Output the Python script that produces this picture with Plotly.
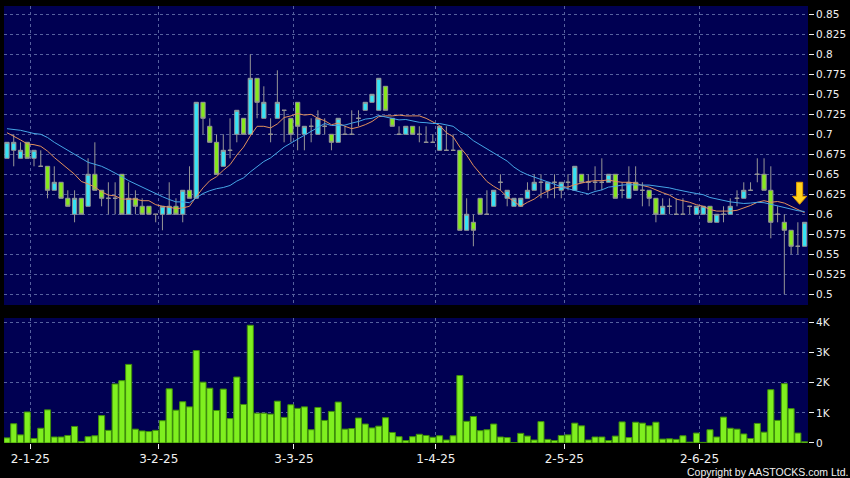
import plotly.graph_objects as go

# ---------------- data ----------------
opens = [0.67, 0.68, 0.67, 0.69, 0.67, 0.66, 0.66, 0.63, 0.64, 0.62,
         0.60, 0.62, 0.61, 0.65, 0.63, 0.62, 0.62, 0.65, 0.60, 0.62,
         0.61, 0.61, 0.60, 0.60, 0.60, 0.61, 0.60, 0.63, 0.62, 0.74,
         0.71, 0.69, 0.66, 0.68, 0.70, 0.72, 0.70, 0.77, 0.72, 0.70,
         0.72, 0.73, 0.72, 0.74, 0.70, 0.71, 0.70, 0.71, 0.70, 0.69,
         0.70, 0.70, 0.72, 0.73, 0.74, 0.73, 0.76, 0.72, 0.70, 0.70,
         0.71, 0.70, 0.69, 0.69, 0.68, 0.68, 0.68, 0.68, 0.58, 0.59,
         0.62, 0.60, 0.61, 0.64, 0.62, 0.61, 0.61, 0.62, 0.63, 0.64,
         0.63, 0.64, 0.63, 0.64, 0.63, 0.65, 0.64, 0.64, 0.64, 0.64,
         0.65, 0.63, 0.62, 0.64, 0.63, 0.63, 0.62, 0.60, 0.61, 0.60,
         0.60, 0.61, 0.60, 0.60, 0.61, 0.59, 0.60, 0.60, 0.62, 0.62,
         0.63, 0.65, 0.65, 0.63, 0.60, 0.59, 0.58, 0.56, 0.56]
highs = [0.69, 0.70, 0.69, 0.69, 0.68, 0.68, 0.66, 0.66, 0.64, 0.63,
         0.63, 0.62, 0.67, 0.69, 0.63, 0.64, 0.64, 0.65, 0.64, 0.63,
         0.62, 0.61, 0.60, 0.61, 0.64, 0.62, 0.63, 0.66, 0.74, 0.74,
         0.72, 0.70, 0.70, 0.72, 0.73, 0.72, 0.80, 0.77, 0.76, 0.72,
         0.78, 0.73, 0.72, 0.74, 0.71, 0.72, 0.73, 0.72, 0.70, 0.72,
         0.71, 0.73, 0.73, 0.74, 0.75, 0.77, 0.76, 0.72, 0.71, 0.71,
         0.71, 0.71, 0.71, 0.70, 0.71, 0.71, 0.70, 0.68, 0.62, 0.60,
         0.62, 0.63, 0.63, 0.65, 0.63, 0.62, 0.62, 0.64, 0.65, 0.65,
         0.64, 0.65, 0.64, 0.65, 0.66, 0.65, 0.65, 0.66, 0.67, 0.65,
         0.65, 0.64, 0.66, 0.66, 0.64, 0.63, 0.62, 0.62, 0.62, 0.62,
         0.62, 0.61, 0.61, 0.61, 0.61, 0.60, 0.61, 0.62, 0.63, 0.64,
         0.64, 0.67, 0.67, 0.66, 0.61, 0.60, 0.58, 0.59, 0.59]
lows = [0.67, 0.66, 0.67, 0.67, 0.66, 0.66, 0.62, 0.63, 0.62, 0.61,
        0.59, 0.60, 0.61, 0.63, 0.61, 0.60, 0.60, 0.60, 0.60, 0.60,
        0.60, 0.60, 0.59, 0.58, 0.60, 0.60, 0.59, 0.62, 0.62, 0.70,
        0.69, 0.65, 0.66, 0.67, 0.69, 0.70, 0.70, 0.72, 0.72, 0.69,
        0.72, 0.69, 0.69, 0.68, 0.68, 0.69, 0.70, 0.70, 0.68, 0.69,
        0.70, 0.70, 0.71, 0.73, 0.74, 0.73, 0.73, 0.71, 0.70, 0.70,
        0.70, 0.69, 0.69, 0.69, 0.68, 0.68, 0.68, 0.58, 0.58, 0.56,
        0.60, 0.60, 0.61, 0.63, 0.61, 0.61, 0.61, 0.62, 0.63, 0.62,
        0.62, 0.62, 0.62, 0.63, 0.63, 0.64, 0.63, 0.63, 0.63, 0.64,
        0.62, 0.62, 0.62, 0.63, 0.61, 0.61, 0.59, 0.60, 0.60, 0.60,
        0.60, 0.60, 0.60, 0.60, 0.59, 0.59, 0.59, 0.60, 0.61, 0.62,
        0.63, 0.64, 0.63, 0.57, 0.59, 0.50, 0.55, 0.55, 0.56]
closes = [0.69, 0.69, 0.68, 0.67, 0.68, 0.66, 0.63, 0.64, 0.62, 0.61,
          0.62, 0.60, 0.65, 0.63, 0.62, 0.62, 0.62, 0.60, 0.62, 0.61,
          0.60, 0.60, 0.60, 0.61, 0.61, 0.60, 0.63, 0.62, 0.74, 0.72,
          0.69, 0.65, 0.68, 0.68, 0.73, 0.70, 0.77, 0.74, 0.74, 0.70,
          0.74, 0.73, 0.70, 0.71, 0.71, 0.71, 0.72, 0.71, 0.69, 0.72,
          0.70, 0.70, 0.72, 0.74, 0.75, 0.77, 0.73, 0.71, 0.70, 0.71,
          0.70, 0.70, 0.69, 0.69, 0.71, 0.68, 0.68, 0.58, 0.60, 0.58,
          0.60, 0.60, 0.63, 0.64, 0.63, 0.62, 0.62, 0.63, 0.64, 0.64,
          0.64, 0.64, 0.64, 0.64, 0.66, 0.64, 0.64, 0.64, 0.64, 0.65,
          0.62, 0.63, 0.64, 0.63, 0.63, 0.62, 0.60, 0.61, 0.61, 0.60,
          0.60, 0.61, 0.61, 0.61, 0.59, 0.60, 0.60, 0.61, 0.62, 0.63,
          0.63, 0.65, 0.63, 0.59, 0.60, 0.58, 0.56, 0.56, 0.59]
ma_short = [0.702, 0.698, 0.693, 0.688, 0.687, 0.685, 0.679, 0.671, 0.664,
            0.657, 0.650, 0.641, 0.638, 0.634, 0.628, 0.624, 0.623, 0.619, 0.619,
            0.619, 0.617, 0.617, 0.612, 0.610, 0.609, 0.607, 0.608, 0.610, 0.622,
            0.633, 0.642, 0.647, 0.655, 0.662, 0.674, 0.684, 0.698, 0.710, 0.710,
            0.708, 0.713, 0.721, 0.723, 0.726, 0.724, 0.725, 0.720, 0.717, 0.712,
            0.714, 0.710, 0.707, 0.709, 0.712, 0.716, 0.722, 0.723, 0.723, 0.724,
            0.723, 0.723, 0.723, 0.720, 0.715, 0.711, 0.702, 0.697, 0.684, 0.674,
            0.661, 0.651, 0.641, 0.635, 0.630, 0.622, 0.616, 0.610, 0.615, 0.619,
            0.625, 0.629, 0.633, 0.634, 0.634, 0.637, 0.639, 0.641, 0.642, 0.642,
            0.643, 0.641, 0.640, 0.640, 0.639, 0.636, 0.634, 0.630, 0.627, 0.624,
            0.619, 0.617, 0.615, 0.612, 0.610, 0.606, 0.604, 0.604, 0.604, 0.605,
            0.608, 0.611, 0.615, 0.617, 0.615, 0.616, 0.614, 0.610, 0.605, 0.602]
ma_long = [0.707, 0.706, 0.705, 0.703, 0.701, 0.700, 0.696, 0.690, 0.685, 0.680,
           0.675, 0.670, 0.665, 0.6625, 0.660, 0.656, 0.652, 0.647, 0.642,
           0.638, 0.6335, 0.629, 0.625, 0.622, 0.6185, 0.6155, 0.6155, 0.6145, 0.6205,
           0.626, 0.6295, 0.632, 0.6335, 0.636, 0.6415, 0.6455, 0.653, 0.660, 0.666,
           0.6705, 0.6775, 0.684, 0.689, 0.694, 0.699, 0.7045, 0.709, 0.7135, 0.711,
           0.711, 0.7115, 0.714, 0.716, 0.719, 0.720, 0.7235, 0.7215, 0.720, 0.718,
           0.7185, 0.7165, 0.715, 0.7145, 0.7135, 0.7135, 0.712, 0.710, 0.7035, 0.699,
           0.692, 0.687, 0.682, 0.6775, 0.6725, 0.6665, 0.659, 0.6535, 0.6495, 0.6465,
           0.643, 0.640, 0.637, 0.6345, 0.632, 0.6295, 0.6275, 0.6255, 0.6285, 0.6305,
           0.634, 0.635, 0.6365, 0.637, 0.6365, 0.6365, 0.6365, 0.6355, 0.6345, 0.633,
           0.631, 0.629, 0.6275, 0.626, 0.6245, 0.621, 0.619, 0.617, 0.6155, 0.6145,
           0.6135, 0.614, 0.615, 0.6145, 0.6125, 0.611, 0.609, 0.607, 0.6045, 0.6035]
volumes = [170, 640, 270, 1030, 150, 490, 1100, 200, 200, 250,
           550, 50, 210, 240, 910, 420, 1960, 2070, 2610, 460,
           400, 380, 420, 740, 1800, 1090, 1370, 1200, 3070, 2020,
           1820, 1080, 1790, 810, 2190, 1280, 3910, 990, 990, 960,
           1390, 850, 1270, 1150, 1200, 440, 1180, 750, 1050, 1360,
           460, 480, 830, 630, 500, 560, 840, 350, 210, 80,
           210, 290, 250, 190, 240, 100, 240, 2240, 720, 880,
           410, 440, 630, 200, 180, 10, 320, 230, 100, 710,
           120, 80, 250, 270, 660, 570, 100, 200, 200, 80,
           230, 700, 180, 690, 660, 570, 690, 130, 140, 120,
           240, 30, 330, 20, 440, 200, 860, 490, 460, 300,
           150, 650, 360, 1770, 750, 1970, 1140, 330, 40]

date_labels = ["2-1-25", "3-2-25", "3-3-25", "1-4-25", "2-5-25", "2-6-25"]
date_index = [3, 22, 42, 63, 82, 102]
price_ticks = [0.5, 0.525, 0.55, 0.575, 0.6, 0.625, 0.65, 0.675, 0.7,
               0.725, 0.75, 0.775, 0.8, 0.825, 0.85]
price_tick_labels = ["0.5", "0.525", "0.55", "0.575", "0.6", "0.625", "0.65",
                     "0.675", "0.7", "0.725", "0.75", "0.775", "0.8", "0.825", "0.85"]
vol_ticks = [0, 1000, 2000, 3000, 4000]
vol_tick_labels = ["0", "1K", "2K", "3K", "4K"]

# ---------------- styles ----------------
BG = "#000000"
PLOT_BG = "#000052"
GRID = "#56619e"
TXT = "#f0f0f0"
CYAN = "#35e3f5"
GREEN = "#86e81c"
WICK = "#969696"

x = list(range(len(closes)))
tick_pos = [d + 0.45 for d in date_index]

fig = go.Figure()

fig.add_trace(go.Candlestick(
    x=x, open=opens, high=highs, low=lows, close=closes,
    xaxis="x", yaxis="y",
    increasing=dict(fillcolor=CYAN, line=dict(color=WICK, width=1)),
    decreasing=dict(fillcolor=GREEN, line=dict(color=WICK, width=1)),
    whiskerwidth=0, hoverinfo="skip", showlegend=False,
))
fig.add_trace(go.Scatter(
    x=x, y=ma_short, mode="lines", xaxis="x", yaxis="y",
    line=dict(color="#e2905c", width=1), hoverinfo="skip", showlegend=False,
))
fig.add_trace(go.Scatter(
    x=x, y=ma_long, mode="lines", xaxis="x", yaxis="y",
    line=dict(color="#46a6e6", width=1), hoverinfo="skip", showlegend=False,
))
fig.add_trace(go.Bar(
    x=x, y=volumes, xaxis="x2", yaxis="y2",
    marker=dict(color="#7fef1f", line=dict(color="#3f8f0a", width=1)),
    hoverinfo="skip", showlegend=False,
))

# yellow down-arrow marking the latest bar
ax_c = x[-1] - 0.74
tip = ma_long[-1] + 0.009
path = (f"M {ax_c-0.45},{tip+0.0275} L {ax_c+0.45},{tip+0.0275} "
        f"L {ax_c+0.45},{tip+0.01} L {ax_c+1.05},{tip+0.01} L {ax_c},{tip} "
        f"L {ax_c-1.05},{tip+0.01} L {ax_c-0.45},{tip+0.01} Z")

xr = [-0.44, len(x) - 0.5]

fig.update_layout(
    width=850, height=478,
    margin=dict(l=4, r=42, t=6, b=35, autoexpand=False),
    paper_bgcolor=BG, plot_bgcolor=PLOT_BG,
    showlegend=False, boxgap=0.1, bargap=0.1,
    font=dict(family="DejaVu Sans", color=TXT, size=11),
    xaxis=dict(domain=[0, 1], anchor="y", range=xr, rangeslider=dict(visible=False),
               tickvals=tick_pos, ticktext=date_labels, showticklabels=False,
               showgrid=True, gridcolor=GRID, griddash="3px,3px", gridwidth=1,
               zeroline=False, showline=False, ticks=""),
    yaxis=dict(domain=[0.3158, 1], anchor="x", side="right", range=[0.4866, 0.8604],
               tickvals=price_ticks, ticktext=price_tick_labels,
               showgrid=True, gridcolor=GRID, griddash="3px,3px", gridwidth=1,
               zeroline=False, showline=False, ticks="outside", ticklen=5,
               tickcolor=TXT, tickfont=dict(size=10.5, color=TXT)),
    xaxis2=dict(domain=[0, 1], anchor="y2", range=xr, matches="x",
                tickvals=tick_pos, ticktext=date_labels,
                showgrid=True, gridcolor=GRID, griddash="3px,3px", gridwidth=1,
                zeroline=False, showline=False, ticks="outside", ticklen=5,
                tickcolor=TXT, tickfont=dict(size=12, color=TXT)),
    yaxis2=dict(domain=[0, 0.286], anchor="x2", side="right", range=[0, 4150],
                tickvals=vol_ticks, ticktext=vol_tick_labels,
                showgrid=True, gridcolor=GRID, griddash="3px,3px", gridwidth=1,
                zeroline=False, showline=False, ticks="outside", ticklen=5,
                tickcolor=TXT, tickfont=dict(size=10.5, color=TXT)),
    shapes=[dict(type="path", xref="x", yref="y", path=path,
                 fillcolor="#ffd21e", line=dict(color="#e09a00", width=1), layer="above")],
    annotations=[dict(text="Copyright by AASTOCKS.com Ltd.", xref="paper", yref="paper",
                      x=1.052, y=-0.066, xanchor="right", yanchor="middle",
                      showarrow=False, font=dict(family="Liberation Sans", size=10.5, color=TXT))],
)

fig.write_html("out.html", config={"displayModeBar": False},
               post_script="document.body.style.margin='0';document.body.style.background='#000';")
